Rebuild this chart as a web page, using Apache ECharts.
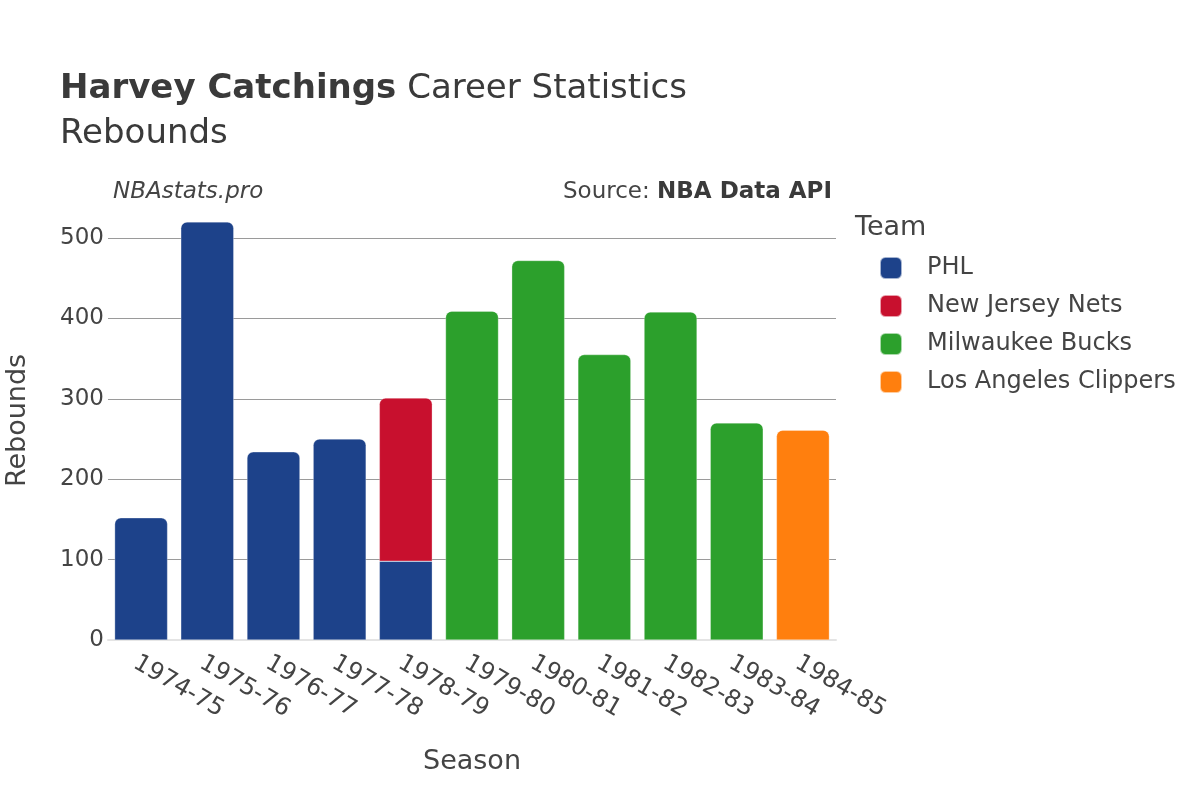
<!DOCTYPE html>
<html><head><meta charset="utf-8">
<script src="https://cdn.jsdelivr.net/npm/echarts@6/dist/echarts.min.js"></script>
<style>html,body{margin:0;padding:0;background:#fff}#c{width:1200px;height:800px}</style>
</head><body><div id="c"></div>
<script>
const seasons = ["1974-75","1975-76","1976-77","1977-78","1978-79","1979-80","1980-81","1981-82","1982-83","1983-84","1984-85"];
const teams = ["PHL","New Jersey Nets","Milwaukee Bucks","Los Angeles Clippers"];
const teamColors = ["#1d428a","#c8102e","#2ca02c","#ff7f0e"];
const phl =       [152, 520, 234, 250, 98, null, null, null, null, null, null];
const njNets =    [null, null, null, null, 203, null, null, null, null, null, null];
const bucks =     [null, null, null, null, null, 409, 472, 355, 408, 270, null];
const clippers =  [null, null, null, null, null, null, null, null, null, null, 261];
const yTicks = [0, 100, 200, 300, 400, 500];

const allSeries = [phl, njNets, bucks, clippers];
const FONT = "DejaVu Sans";
const chart = echarts.init(document.getElementById('c'), null, {renderer:'canvas'});

function buildData(si) {
  return allSeries[si].map((v, ci) => {
    if (v == null) return null;
    let onTop = true;
    for (let k = si + 1; k < allSeries.length; k++) if (allSeries[k][ci] != null) onTop = false;
    return { value: v, itemStyle: { borderRadius: onTop ? [6,6,0,0] : 0 } };
  });
}

const series = teams.map((t, i) => ({
  name: t, type: 'bar', stack: 'total', data: buildData(i),
  barCategoryGap: '20%',
  itemStyle: { color: teamColors[i], borderColor: 'rgba(255,255,255,0.6)', borderWidth: 0.5 },
  emphasis: { disabled: true }
}));

chart.setOption({
  animation: false,
  textStyle: { fontFamily: FONT, color: '#444' },
  title: [
    { text: '{b|Harvey Catchings} Career Statistics', left: 55, top: 67,
      textStyle: { fontFamily: FONT, fontSize: 34, color: '#3a3a3a', fontWeight: 'normal',
        rich: { b: { fontFamily: FONT, fontSize: 34, fontWeight: 'bold', color: '#3a3a3a' } } } },
    { text: 'Rebounds', left: 55, top: 112,
      textStyle: { fontFamily: FONT, fontSize: 34, color: '#3a3a3a', fontWeight: 'normal' } },
    { text: 'NBAstats.pro', left: 108, top: 176,
      textStyle: { fontFamily: FONT, fontSize: 23, color: '#444', fontStyle: 'italic', fontWeight: 'normal' } },
    { text: 'Source: {b|NBA Data API}', right: 363, top: 176,
      textStyle: { fontFamily: FONT, fontSize: 23, color: '#444', fontWeight: 'normal',
        rich: { b: { fontFamily: FONT, fontSize: 23, fontWeight: 'bold', color: '#3a3a3a' } } } },
    { text: 'Team', left: 850, top: 209,
      textStyle: { fontFamily: FONT, fontSize: 27, color: '#444', fontWeight: 'normal' } }
  ],
  legend: {
    data: teams, orient: 'vertical', left: 874, top: 251, itemGap: 14,
    itemWidth: 22, itemHeight: 22, icon: 'roundRect',
    textStyle: { fontFamily: FONT, fontSize: 24, color: '#444', padding: [0,0,0,20], lineHeight: 22 },
    selectedMode: false
  },
  grid: { left: 108, right: 364, top: 201, bottom: 160, containLabel: false, outerBoundsMode: 'none' },
  xAxis: {
    type: 'category', data: seasons,
    name: 'Season', nameLocation: 'middle', nameGap: 108,
    nameTextStyle: { fontFamily: FONT, fontSize: 27, color: '#444' },
    axisLine: { show: true, lineStyle: { color: '#e4e4e4', width: 2 } },
    axisTick: { show: false },
    axisLabel: { rotate: -30, fontFamily: FONT, fontSize: 24, color: '#444', margin: 11, interval: 0,
      align: 'left', verticalAlign: 'top' }
  },
  yAxis: {
    type: 'value', min: 0, max: 546, interval: 100,
    name: 'Rebounds', nameLocation: 'middle', nameGap: 77, nameRotate: 90,
    nameTextStyle: { fontFamily: FONT, fontSize: 27, color: '#444' },
    axisLine: { show: false }, axisTick: { show: false },
    axisLabel: { fontFamily: FONT, fontSize: 23, color: '#444', margin: 4,
      formatter: v => yTicks.includes(v) ? String(v) : '' },
    splitLine: { showMaxLine: false, lineStyle: { color: '#9a9a9a', width: 1 } }
  },
  series: series
});
</script></body></html>
